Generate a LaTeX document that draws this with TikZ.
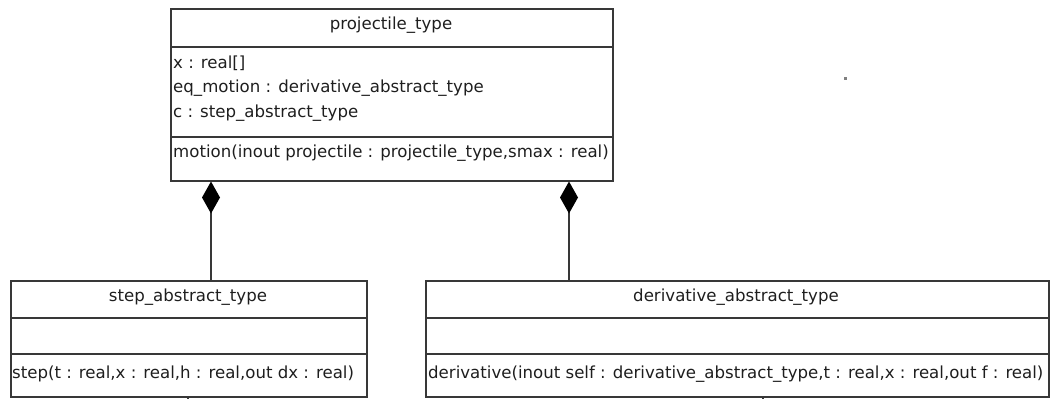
\documentclass[tikz,border=0pt]{standalone}
\usepackage{fontspec}
\setmainfont{DejaVu Sans}
\usetikzlibrary{arrows.meta,calc}
\definecolor{linec}{HTML}{383838}
\definecolor{txtc}{HTML}{1E1E1E}
\begin{document}
\begin{tikzpicture}[x=1pt,y=-1pt,
  box/.style={draw=linec, line width=1.5pt, rectangle, inner sep=0pt, anchor=north west},
  sepline/.style={draw=linec, line width=1.5pt},
  lbl/.style={inner sep=0pt, font=\fontsize{16.6}{19}\selectfont, text=txtc},
  lblw/.style={lbl, anchor=west},
  comp/.style={draw=linec, line width=1.5pt, -{Diamond[length=32pt,width=18pt,fill=black,color=black]}}]
\useasboundingbox (0,0) rectangle (1051,399);
% boxes
\node[box, minimum width=442pt, minimum height=172pt] (pbox) at (170,8) {};
\node[box, minimum width=356pt, minimum height=116pt] (sbox) at (10,280) {};
\node[box, minimum width=623pt, minimum height=116pt] (dbox) at (425,280) {};
% compartments
\draw[sepline] ($(pbox.north west)+(0,39)$) -- ($(pbox.north east)+(0,39)$);
\draw[sepline] ($(pbox.north west)+(0,129)$) -- ($(pbox.north east)+(0,129)$);
\draw[sepline] ($(sbox.north west)+(0,38)$) -- ($(sbox.north east)+(0,38)$);
\draw[sepline] ($(sbox.north west)+(0,74)$) -- ($(sbox.north east)+(0,74)$);
\draw[sepline] ($(dbox.north west)+(0,38)$) -- ($(dbox.north east)+(0,38)$);
\draw[sepline] ($(dbox.north west)+(0,74)$) -- ($(dbox.north east)+(0,74)$);
% texts
\node[lbl] (ptitle) at (391,25) {projectile\_type};
\node[lblw] (pa1) at (173,63) {x : real[]};
\node[lblw] (pa2) at (173,88) {eq\_motion : derivative\_abstract\_type};
\node[lblw] (pa3) at (173,113) {c : step\_abstract\_type};
\node[lblw] (pm1) at (173,153) {motion(inout projectile : projectile\_type,smax : real)};
\node[lbl] (stitle) at (188,297) {step\_abstract\_type};
\node[lblw] (sm1) at (12,374) {step(t : real,x : real,h : real,out dx : real)};
\node[lbl] (dtitle) at (736,297) {derivative\_abstract\_type};
\node[lblw] (dm1) at (428,374) {derivative(inout self : derivative\_abstract\_type,t : real,x : real,out f : real)};
% connectors
\coordinate (c1) at (211,0);
\coordinate (c2) at (569,0);
\draw[comp] (c1 |- sbox.north) -- (c1 |- pbox.south);
\draw[comp] (c2 |- dbox.north) -- (c2 |- pbox.south);
% cut-off connector stubs at bottom
\coordinate (s1) at (188,399);
\coordinate (s2) at (763,399);
\draw[sepline] (s1 |- sbox.south) -- (s1);
\draw[sepline] (s2 |- dbox.south) -- (s2);
% stray dot
\fill[gray] (844,77) rectangle (847,80);
\end{tikzpicture}
\end{document}
